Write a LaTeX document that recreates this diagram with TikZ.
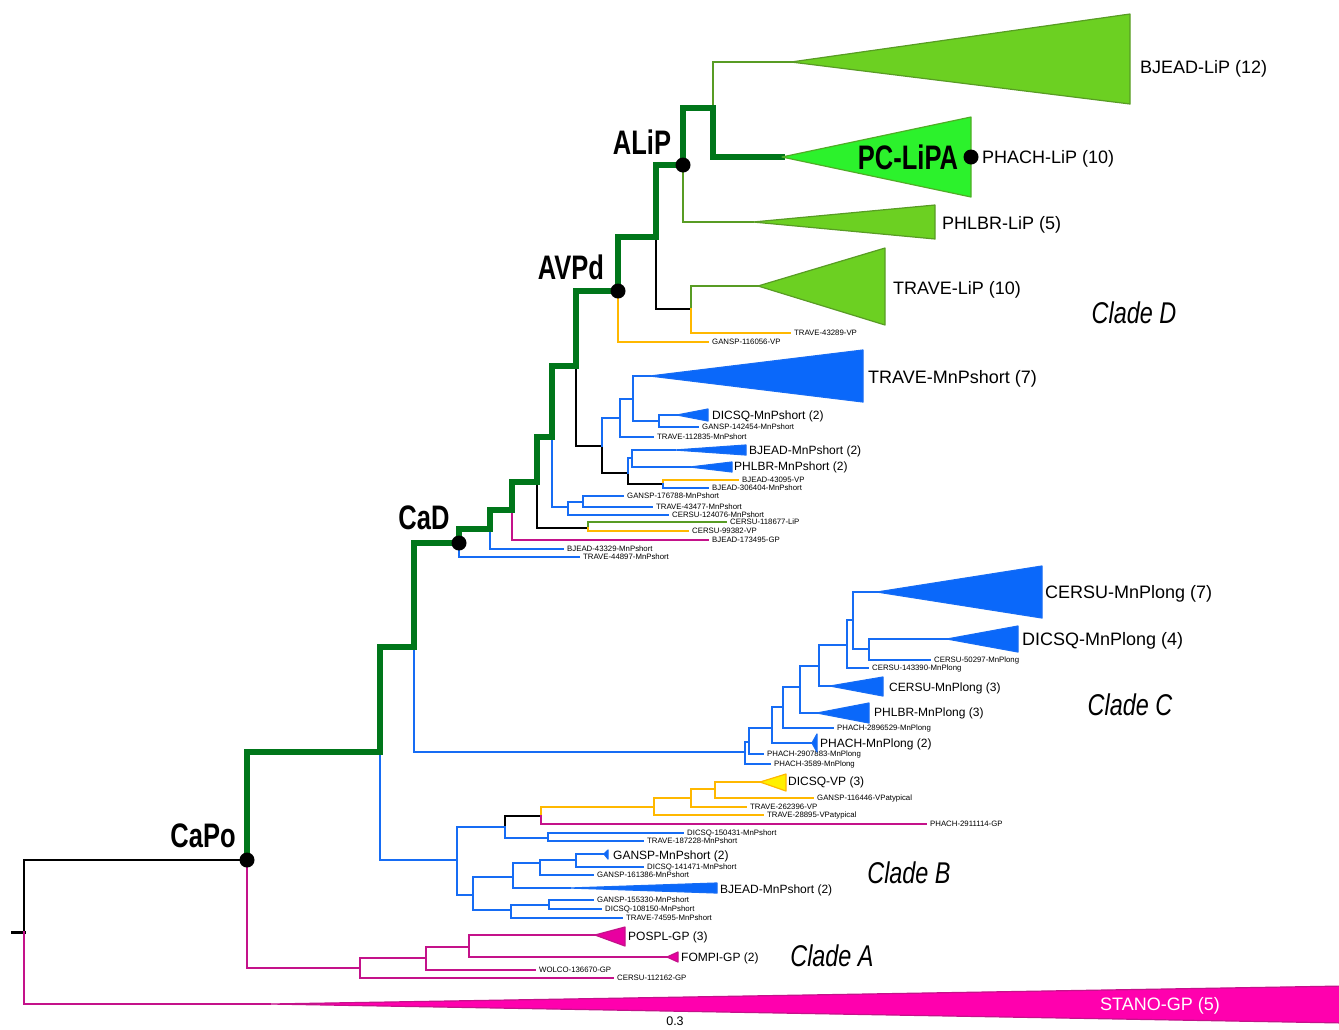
\documentclass[tikz,border=0pt]{standalone}
\usepackage{fontspec}
\setmainfont{Liberation Sans}
\newfontfamily\narrowbf[FakeStretch=0.75]{Liberation Sans}
\newfontfamily\narrowit[FakeStretch=0.78]{Liberation Sans}

\definecolor{spinegreen}{RGB}{0,118,26}
\definecolor{ligreen}{RGB}{88,156,36}
\definecolor{trigreen}{RGB}{108,208,34}
\definecolor{pcgreen}{RGB}{44,242,44}
\definecolor{brblue}{RGB}{22,108,244}
\definecolor{triblue}{RGB}{10,104,250}
\definecolor{vporange}{RGB}{255,184,0}
\definecolor{vpyellow}{RGB}{255,240,0}
\definecolor{gpmag}{RGB}{196,18,138}
\definecolor{trimag}{RGB}{232,0,160}
\definecolor{stanomag}{RGB}{255,0,174}

\begin{document}
\begin{tikzpicture}[x=1pt, y=-1pt, line cap=rect,
	br/.style={line width=2.2pt},
	bk/.style={br, draw=black},
	bl/.style={br, draw=brblue},
	yw/.style={br, draw=vporange},
	mg/.style={br, draw=gpmag},
	gn/.style={line width=1.8pt, draw=ligreen},
	spine/.style={line width=5.8pt, draw=spinegreen},
	tri/.style={line width=1.2pt, line join=round},
	tgr/.style={tri, fill=trigreen, draw=ligreen},
	tpc/.style={tri, fill=pcgreen, draw=ligreen!80!pcgreen},
	tbl/.style={tri, fill=triblue, draw=brblue},
	tyw/.style={tri, fill=vpyellow, draw=vporange},
	tmg/.style={tri, fill=trimag, draw=gpmag},
	tst/.style={tri, fill=stanomag, draw=gpmag},
	lbl/.style={inner sep=0pt, anchor=west, text depth=0pt},
	leaf/.style={lbl, font=\fontsize{7.8}{8}\selectfont, text height=5.6pt},
	mid/.style={lbl, font=\fontsize{12}{12}\selectfont, text height=8.6pt},
	big/.style={lbl, font=\fontsize{18}{18}\selectfont, text height=12.9pt},
	stano/.style={big, text=white},
	anc/.style={inner sep=0pt, text height=24.3pt, text depth=0pt, font=\narrowbf\bfseries\fontsize{34}{34}\selectfont},
	clade/.style={inner sep=0pt, text height=21.5pt, text depth=0pt, font=\narrowit\itshape\fontsize{30}{30}\selectfont},
	dot/.style={circle, fill=black, inner sep=0pt, minimum size=15pt}
]
	\useasboundingbox (0,0) rectangle (1339,1029);

	% collapsed clades: name/apex x/apex y/right x/top/bottom/style/label x/label y/font/text
	\def\tris{bjlip/791/62/1130/14/104/tgr/1140/67/big/{BJEAD-LiP (12)},
		pclipa/782/157/971/117/197/tpc/982/157/big/{PHACH-LiP (10)},
		phlip/753/222/935/205/239/tgr/942/223/big/{PHLBR-LiP (5)},
		trlip/758/286/885/248/325/tgr/893/288/big/{TRAVE-LiP (10)},
		trmns/650/376/863/350/402/tbl/868/377/big/{TRAVE-MnPshort (7)},
		dimns/677/415/708/409/421/tbl/712/415/mid/{DICSQ-MnPshort (2)},
		bjmns/675/450/746/445/455/tbl/749/450/mid/{BJEAD-MnPshort (2)},
		phmns/690/467/732/462/472/tbl/734/466/mid/{PHLBR-MnPshort (2)},
		cemnl7/877/592/1042/566/618/tbl/1045/592/big/{CERSU-MnPlong (7)},
		dimnl/947/639/1018/626/652/tbl/1022/639/big/{DICSQ-MnPlong (4)},
		cemnl3/830/686/883/677/696/tbl/889/687/mid/{CERSU-MnPlong (3)},
		phmnl3/817/713/869/703/723/tbl/874/712/mid/{PHLBR-MnPlong (3)},
		phmnl2/812/743/817/734/752/tbl/820/743/mid/{PHACH-MnPlong (2)},
		divp/760/782/786/774/791/tyw/788/781/mid/{DICSQ-VP (3)},
		gamns/604/854/608/850/859/tbl/613/855/mid/{GANSP-MnPshort (2)},
		bjmnsb/570/888/717/883/893/tbl/720/889/mid/{BJEAD-MnPshort (2)},
		pogp/595/935/625/927/946/tmg/628/936/mid/{POSPL-GP (3)},
		fogp/667/957/678/952/962/tmg/681/957/mid/{FOMPI-GP (2)},
		stgp/270/1004/1345/986/1023/tst/1100/1004/stano/{STANO-GP (5)}}

	% inner nodes
	\foreach \n/\x/\y in {stub/12/932, root/24/932, capo/247/860,
		sp1/380/752, sp2/414/647, cad/459/543, sp3/490/529, sp4/512/510,
		sp5/537/482, sp6/552/437, sp7/576/366, avpd/618/291, sp8/656/237,
		alip/683/165, sp9/713/108, t1/691/309, dlv/588/528, dbl/568/507,
		dbl2/583/502, m1/602/446, m2/620/418, m3/633/399, m4/659/421,
		m5/628/473, m6/632/458, m7/663/484,
		c0/745/752, c1/749/742, c2/772/728, c3/783/707, c4/800/687,
		c5/819/666, c6/847/645, c7/853/620, c8/869/649,
		b0/457/860, b1/505/827, b2/541/816, b3/654/807, b4/691/798,
		b4b/715/789, b5/548/838, b6/473/895, b7/513/877, b8/540/863,
		b9/576/860, b10/511/910, b11/549/905,
		a1/360/968, a2/426/958, a3/469/947}
		\coordinate (\n) at (\x,\y);

	\foreach \n/\ax/\ay/\rx/\ty/\by/\s/\lx/\ly/\f/\txt in \tris
		\coordinate (\n) at (\ax,\ay);

	% leaves
	\foreach \n/\x/\y/\txt in {t43289/790/333/TRAVE-43289-VP,
		g116056/708/342/GANSP-116056-VP,
		g142454/698/427/GANSP-142454-MnPshort,
		t112835/653/437/TRAVE-112835-MnPshort,
		b43095/738/480/BJEAD-43095-VP,
		b306404/708/488/BJEAD-306404-MnPshort,
		g176788/623/496/GANSP-176788-MnPshort,
		t43477/652/507/TRAVE-43477-MnPshort,
		c124076/668/515/CERSU-124076-MnPshort,
		c118677/726/522/CERSU-118677-LiP,
		c99382/688/531/CERSU-99382-VP,
		b173495/708/540/BJEAD-173495-GP,
		b43329/563/549/BJEAD-43329-MnPshort,
		t44897/579/557/TRAVE-44897-MnPshort,
		c50297/930/660/CERSU-50297-MnPlong,
		c143390/868/668/CERSU-143390-MnPlong,
		p2896529/833/728/PHACH-2896529-MnPlong,
		p2907883/763/754/PHACH-2907883-MnPlong,
		p3589/770/764/PHACH-3589-MnPlong,
		g116446/813/798/GANSP-116446-VPatypical,
		t262396/746/807/TRAVE-262396-VP,
		t28895/763/815/TRAVE-28895-VPatypical,
		p2911114/926/824/PHACH-2911114-GP,
		d150431/683/833/DICSQ-150431-MnPshort,
		t187228/643/841/TRAVE-187228-MnPshort,
		d141471/643/867/DICSQ-141471-MnPshort,
		g161386/593/875/GANSP-161386-MnPshort,
		g155330/593/900/GANSP-155330-MnPshort,
		d108150/601/909/DICSQ-108150-MnPshort,
		t74595/622/918/TRAVE-74595-MnPshort,
		w136670/535/970/WOLCO-136670-GP,
		c112162/613/978/CERSU-112162-GP} {
		\coordinate (\n) at (\x,\y);
		\node[leaf, xshift=4pt] (l\n) at (\n) {\txt};
	}

	% branches
	\draw[bk, line width=3pt] (stub) -- (root);
	\foreach \pa/\ch in {root/capo, sp7/m1, m1/m5, m5/m7, sp8/t1, sp5/dlv, b1/b2}
		\draw[bk] (\pa) |- (\ch);
	\foreach \pa/\ch in {sp9/bjlip, alip/phlip, t1/trlip, dlv/c118677}
		\draw[gn] (\pa) |- (\ch);
	\foreach \pa/\ch in {avpd/g116056, t1/t43289, m7/b43095, dlv/c99382,
		b2/b3, b3/b4, b3/t28895, b4/b4b, b4/t262396, b4b/divp, b4b/g116446}
		\draw[yw] (\pa) |- (\ch);
	\foreach \pa/\ch in {root/stgp, capo/a1, a1/a2, a1/c112162, a2/a3,
		a2/w136670, a3/pogp, a3/fogp, sp4/b173495, b2/p2911114}
		\draw[mg] (\pa) |- (\ch);
	\foreach \pa/\ch in {sp1/b0, sp2/c0, cad/t44897, sp3/b43329, sp6/dbl,
		dbl/dbl2, dbl2/g176788, dbl2/t43477, dbl/c124076,
		m1/m2, m2/m3, m2/t112835, m3/trmns, m3/m4, m4/dimns, m4/g142454,
		m5/m6, m6/bjmns, m6/phmns, m7/b306404,
		c0/c1, c0/p3589, c1/c2, c1/p2907883, c2/c3, c2/phmnl2, c3/c4,
		c3/p2896529, c4/c5, c4/phmnl3, c5/c6, c5/cemnl3, c6/c7, c6/c143390,
		c7/cemnl7, c7/c8, c8/dimnl, c8/c50297,
		b0/b1, b0/b6, b1/b5, b5/d150431, b5/t187228, b6/b7, b6/b10,
		b7/b8, b7/bjmnsb, b8/b9, b8/g161386, b9/gamns, b9/d141471,
		b10/b11, b10/t74595, b11/g155330, b11/d108150}
		\draw[bl] (\pa) |- (\ch);

	% spine
	\foreach \pa/\ch in {capo/sp1, sp1/sp2, sp2/cad, cad/sp3, sp3/sp4, sp4/sp5,
		sp5/sp6, sp6/sp7, sp7/avpd, avpd/sp8, sp8/alip, alip/sp9, sp9/pclipa}
		\draw[spine] (\pa) |- (\ch);

	% collapsed clades
	\foreach \n/\ax/\ay/\rx/\ty/\by/\s/\lx/\ly/\f/\txt in \tris {
		\filldraw[\s] (\n) -- (\rx,\ty) -- (\rx,\by) -- cycle;
		\node[\f] (l\n) at (\lx,\ly) {\txt};
	}

	% marked ancestors
	\foreach \n in {capo, cad, avpd, alip}
		\node[dot] (d\n) at (\n) {};
	\node[dot] (dpc) at (971,157) {};
	\node[anc] (lcapo) at (203,835) {CaPo};
	\node[anc] (lcad) at (424,517) {CaD};
	\node[anc] (lavpd) at (571,267) {AVPd};
	\node[anc] (lalip) at (642,142) {ALiP};
	\node[anc] (lpc) at (908,157) {PC-LiPA};

	% clade names
	\node[clade] (cladeD) at (1134,313) {Clade D};
	\node[clade] (cladeC) at (1130,705) {Clade C};
	\node[clade] (cladeB) at (909,873) {Clade B};
	\node[clade] (cladeA) at (832,956) {Clade A};

	\node[inner sep=0pt, font=\fontsize{12.5}{12.5}\selectfont] (scale) at (675,1021) {0.3};
\end{tikzpicture}
\end{document}
